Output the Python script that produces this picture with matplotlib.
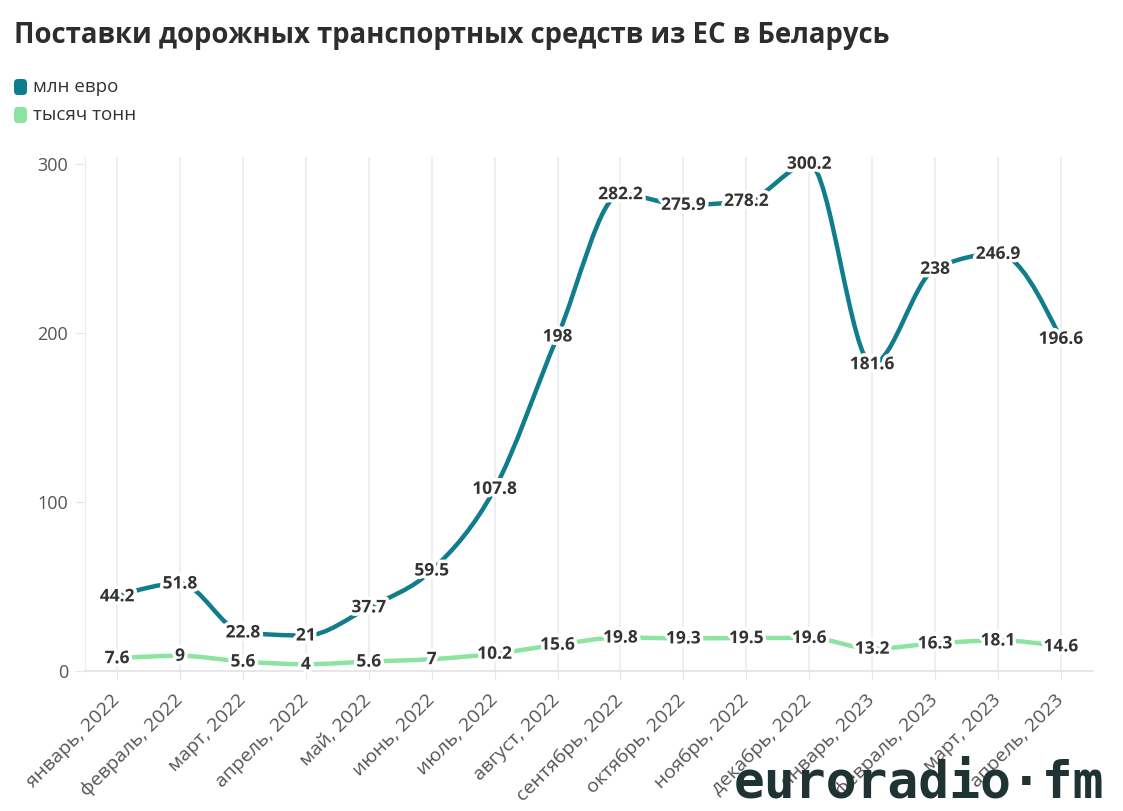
import numpy as np
import matplotlib.pyplot as plt
import matplotlib.patheffects as pe
import matplotlib.transforms as mtransforms
from matplotlib.path import Path
from matplotlib.patches import PathPatch, FancyBboxPatch

months = ['январь, 2022', 'февраль, 2022', 'март, 2022', 'апрель, 2022', 'май, 2022',
          'июнь, 2022', 'июль, 2022', 'август, 2022', 'сентябрь, 2022', 'октябрь, 2022',
          'ноябрь, 2022', 'декабрь, 2022', 'январь, 2023', 'февраль, 2023', 'март, 2023',
          'апрель, 2023']
mln_euro = [44.2, 51.8, 22.8, 21, 37.7, 59.5, 107.8, 198, 282.2, 275.9, 278.2, 300.2,
            181.6, 238, 246.9, 196.6]
thous_tonnes = [7.6, 9, 5.6, 4, 5.6, 7, 10.2, 15.6, 19.8, 19.3, 19.5, 19.6, 13.2, 16.3,
                18.1, 14.6]
series_names = ['млн евро', 'тысяч тонн']
y_ticks = [0, 100, 200, 300]

teal = '#0f7d8c'
green = '#8de3a0'
text_dark = '#333333'

plt.rcParams['font.family'] = ['Open Sans', 'DejaVu Sans']


#------------------------------------------------------------------------------
def monotone_path(xs, ys):
    """cubic bezier path, same construction as d3 curveMonotoneX"""
    xs = np.asarray(xs, float)
    ys = np.asarray(ys, float)
    n = len(xs)
    h = np.diff(xs)
    s = np.diff(ys) / h
    t = np.zeros(n)
    for i in range(1, n - 1):
        p = (s[i - 1] * h[i] + s[i] * h[i - 1]) / (h[i - 1] + h[i])
        t[i] = (np.sign(s[i - 1]) + np.sign(s[i])) * min(abs(s[i - 1]), abs(s[i]), 0.5 * abs(p))
    t[0] = (3 * s[0] - t[1]) / 2
    t[-1] = (3 * s[-1] - t[-2]) / 2
    verts = [(xs[0], ys[0])]
    codes = [Path.MOVETO]
    for i in range(n - 1):
        dx = h[i] / 3
        verts += [(xs[i] + dx, ys[i] + dx * t[i]),
                  (xs[i + 1] - dx, ys[i + 1] - dx * t[i + 1]),
                  (xs[i + 1], ys[i + 1])]
        codes += [Path.CURVE4] * 3
    return Path(verts, codes)


fig = plt.figure(figsize=(11.23, 8.11), dpi=100)
ax = fig.add_axes([85 / 1123, 1 - 671 / 811, 1008 / 1123, 514 / 811])

x = np.arange(len(months))

for values, color in [(mln_euro, teal), (thous_tonnes, green)]:
    patch = PathPatch(monotone_path(x, values), facecolor='none', edgecolor=color,
                      linewidth=3.2, capstyle='round', joinstyle='round', zorder=3)
    patch.set_clip_on(False)
    ax.add_patch(patch)

#value labels with white halo
for values in [mln_euro, thous_tonnes]:
    for xi, v in zip(x, values):
        ax.text(xi, v, '%g' % v, ha='center', va='center', fontsize=12.5,
                fontweight='bold', color=text_dark, zorder=5,
                path_effects=[pe.withStroke(linewidth=5, foreground='white')])

ax.set_xlim(-0.51, 15.51)
ax.set_ylim(0, 304.2)

ax.set_xticks(x)
ax.set_xticklabels(months, rotation=45, ha='right', va='center',
                   rotation_mode='anchor', fontsize=14, color='#555555')
ax.set_yticks(y_ticks)
ax.set_yticklabels([str(v) for v in y_ticks], fontsize=13, color='#555555')

#shift rotated labels a bit to the right
offset = mtransforms.ScaledTranslation(0.05, -0.01, fig.dpi_scale_trans)
for label in ax.get_xticklabels():
    label.set_transform(label.get_transform() + offset)

ax.tick_params(axis='x', length=6, color='#e6e6e6', pad=13)
ax.tick_params(axis='y', length=7, color='#e6e6e6', pad=5)

ax.grid(axis='x', color='#ebebeb', linewidth=1.2)
ax.set_axisbelow(True)
for side in ['top', 'right']:
    ax.spines[side].set_visible(False)
ax.spines['left'].set_color('#ebebeb')
ax.spines['bottom'].set_color('#e3e3e3')
ax.spines['bottom'].set_linewidth(1.2)

#title
fig.text(14 / 1123, 1 - 36 / 811, 'Поставки дорожных транспортных средств из ЕС в Беларусь',
         fontsize=19.8, fontweight='bold', color='#2d2d2d', ha='left', va='center')

#legend
for i, (name, color) in enumerate(zip(series_names, [teal, green])):
    y_px = 87 + i * 28
    fig.add_artist(FancyBboxPatch((0.14, (811 - y_px - 8) / 100), 0.13, 0.16,
                                  boxstyle='round,pad=0,rounding_size=0.04',
                                  facecolor=color, edgecolor='none',
                                  transform=fig.dpi_scale_trans))
    fig.text(33 / 1123, 1 - y_px / 811, name, fontsize=13.5, color=text_dark,
             ha='left', va='center')

#watermark
fig.text(1104 / 1123, 1 - 783 / 811, 'euroradio·fm', fontsize=37, fontweight='bold',
         family='DejaVu Sans Mono', color='#1f3333', ha='right', va='center', zorder=10)

plt.savefig('out.png', dpi=100)
plt.close()
